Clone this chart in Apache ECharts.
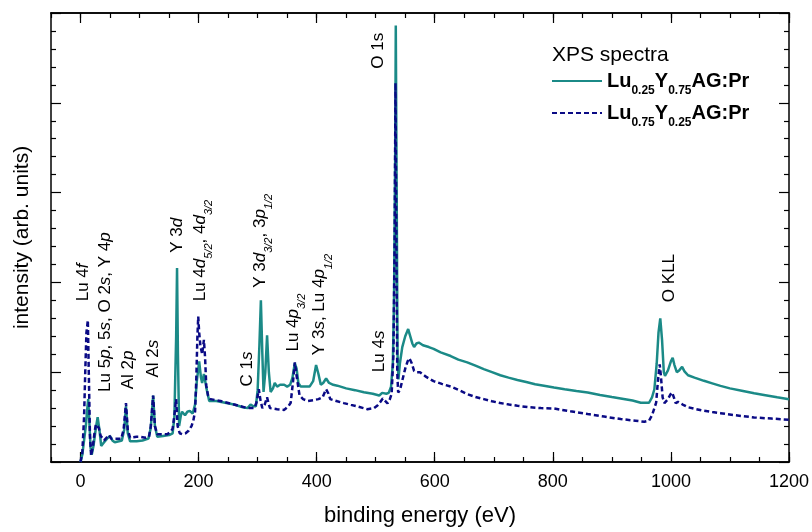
<!DOCTYPE html>
<html>
<head>
<meta charset="utf-8">
<script src="https://cdn.jsdelivr.net/npm/echarts@6/dist/echarts.min.js"></script>
<style>
    html, body { margin: 0; padding: 0; background: #fff; }
    #main { width: 812px; height: 532px; }
</style>
</head>
<body>
<div id="main"></div>
<script>
// binding energy (eV) / intensity (arb. units)
var tealEnergy = [0, 3, 6, 9, 11, 13, 15, 17, 19, 22, 26, 29, 32, 35, 40, 45, 50, 54, 58, 65, 70, 74, 77, 80, 84, 95, 105, 115, 119, 123, 126, 130, 140, 150, 156, 159, 162, 163.5, 165, 167, 170, 172, 177, 181, 185, 190, 194, 197, 201, 204, 206, 209, 211, 214, 218, 230, 245, 260, 275, 283, 288, 290, 293, 297, 300, 303, 305.5, 308, 310, 313, 316, 319, 322, 326, 329, 333, 338, 345, 350, 355, 359, 363, 366, 369, 373, 380, 388, 394, 399, 403, 407, 411, 416, 421, 428, 435, 450, 465, 480, 495, 506, 511, 514, 518, 522, 526, 529, 531, 533, 534, 535.5, 537, 538.5, 541, 545, 550, 555, 558, 562, 565, 569, 573, 580, 590, 598, 610, 627, 640, 655, 670, 683, 697, 711, 725, 740, 755, 770, 785, 802, 820, 840, 859, 880, 900, 915, 935, 949, 963, 968, 972, 976, 979, 982, 985, 988, 990, 995, 1000, 1003, 1006, 1010, 1014, 1019, 1023, 1029, 1040, 1056, 1070, 1084, 1100, 1120, 1141, 1160, 1180, 1200];
var tealIntensity = [0, 0.4, 1.2, 2.0, 2.8, 3.5, 2.2, 0.8, 0.4, 0.9, 1.9, 2.5, 1.8, 0.9, 1.1, 1.3, 1.45, 1.2, 1.1, 1.15, 1.2, 1.8, 3.1, 1.6, 1.15, 1.15, 1.2, 1.3, 1.9, 3.7, 2.0, 1.4, 1.45, 1.5, 1.6, 2.5, 7.0, 10.8, 6.0, 2.0, 2.6, 2.8, 2.6, 2.8, 2.85, 2.7, 3.2, 4.5, 5.6, 4.7, 4.4, 4.9, 4.9, 4.0, 3.4, 3.4, 3.3, 3.2, 3.05, 3.0, 3.2, 3.3, 3.1, 3.1, 4.0, 6.5, 9.0, 6.0, 3.9, 5.0, 7.05, 5.0, 3.9, 4.1, 4.4, 4.2, 4.3, 4.3, 4.2, 4.3, 4.7, 5.5, 5.2, 4.4, 4.2, 4.2, 4.2, 4.5, 5.4, 4.9, 4.3, 4.4, 4.65, 4.4, 4.3, 4.25, 4.1, 4.0, 3.88, 3.8, 3.7, 3.85, 3.96, 3.8, 3.85, 4.2, 5.5, 9.0, 17.0, 24.3, 15.0, 6.0, 4.6, 5.5, 6.4, 7.0, 7.4, 7.3, 6.6, 6.4, 6.6, 6.65, 6.5, 6.4, 6.3, 6.1, 5.9, 5.7, 5.55, 5.35, 5.17, 5.0, 4.83, 4.7, 4.57, 4.45, 4.33, 4.25, 4.15, 4.05, 3.95, 3.87, 3.73, 3.62, 3.54, 3.42, 3.3, 3.3, 3.6, 4.05, 5.5, 7.2, 8.0, 6.8, 5.0, 4.8, 5.1, 5.6, 5.8, 5.4, 5.0, 5.1, 5.3, 5.05, 4.83, 4.7, 4.52, 4.38, 4.24, 4.1, 3.97, 3.83, 3.72, 3.6, 3.5];

var navyEnergy = [0, 3, 6, 8, 10, 12.4, 14, 16, 18, 21, 24, 26, 28.6, 31, 34, 40, 44, 48, 52, 56, 62, 69, 73, 77, 80, 84, 95, 102, 110, 116, 119, 123, 126, 130, 140, 147, 153, 156, 159, 162, 164.5, 168, 172, 178, 183, 188, 191, 194, 196, 198, 199.4, 201, 203, 206, 209, 211, 213, 216, 220, 237, 260, 283, 294, 298, 302, 305, 308, 312, 316, 319, 321, 333, 345, 352, 356, 360, 363, 366, 371, 377, 385, 395, 403, 410, 416, 420, 423, 435, 446, 458, 469, 486, 497, 503, 508, 512, 516, 520, 524, 527, 530, 532, 533.5, 535, 536.5, 538, 541, 544, 550, 554, 557, 561, 565, 570, 575, 585, 598, 612, 627, 641, 655, 669, 683, 697, 711, 726, 740, 760, 780, 802, 830, 859, 887, 915, 940, 955, 963, 968, 972, 975, 978, 981, 983, 986, 989, 992, 995, 999, 1002, 1005, 1008, 1012, 1015, 1020, 1029, 1042, 1056, 1070, 1084, 1110, 1141, 1170, 1200];
var navyIntensity = [0, 0.5, 2.5, 5.0, 7.2, 7.9, 5.0, 1.46, 0.35, 0.9, 1.7, 2.1, 2.2, 1.9, 1.46, 1.2, 1.35, 1.5, 1.3, 1.3, 1.3, 1.3, 1.8, 3.28, 1.8, 1.35, 1.4, 1.4, 1.35, 1.4, 2.0, 3.7, 2.0, 1.55, 1.55, 1.55, 1.7, 1.85, 2.6, 3.5, 2.0, 1.6, 1.55, 1.6, 1.74, 2.0, 2.3, 2.8, 4.5, 7.0, 8.1, 7.2, 6.5, 6.0, 6.8, 5.8, 4.25, 3.7, 3.5, 3.4, 3.2, 3.0, 3.0, 3.3, 4.05, 3.4, 3.0, 3.2, 3.6, 3.2, 3.0, 2.94, 2.9, 3.1, 3.3, 4.5, 5.55, 4.8, 3.7, 3.5, 3.4, 3.45, 3.5, 3.6, 4.05, 3.8, 3.5, 3.38, 3.28, 3.18, 3.09, 2.94, 3.0, 3.15, 3.35, 3.54, 3.4, 3.26, 3.5, 3.8, 6.0, 12.0, 21.1, 12.0, 5.0, 3.87, 4.0, 4.4, 5.2, 5.6, 5.78, 5.5, 5.07, 5.0, 5.0, 4.75, 4.5, 4.35, 4.2, 4.0, 3.78, 3.62, 3.5, 3.38, 3.28, 3.2, 3.13, 3.05, 3.0, 2.98, 2.82, 2.67, 2.53, 2.39, 2.3, 2.24, 2.3, 2.6, 3.0, 3.3, 4.5, 5.44, 4.8, 3.6, 3.28, 3.35, 3.5, 3.75, 3.87, 3.6, 3.28, 3.35, 3.4, 3.2, 3.05, 2.95, 2.85, 2.78, 2.72, 2.6, 2.48, 2.42, 2.35];

// peak assignments: *italic*, _subscript_
var peakNames = ['Lu 4*f*', 'Lu 5*p*, 5*s*, O 2*s*, Y 4*p*', 'Al 2*p*', 'Al 2*s*', 'Y 3*d*',
    'Lu 4*d*_5/2_, 4*d*_3/2_', 'C 1*s*', 'Y 3*d*_3/2_, 3*p*_1/2_', 'Lu 4*p*_3/2_',
    'Y 3*s*, Lu 4*p*_1/2_', 'Lu 4*s*', 'O 1s', 'O KLL'];
var peakEnergy = [5, 42, 81, 124, 164, 203, 283, 305, 361, 406, 507, 505, 998];
var peakIntensity = [8.95, 3.9, 4.05, 4.7, 11.65, 8.95, 4.2, 9.7, 6.15, 5.95, 5.0, 21.9, 8.9];

var seriesNames = ['Lu_0.25_Y_0.75_AG:Pr', 'Lu_0.75_Y_0.25_AG:Pr'];
var xMajorTicks = [0, 200, 400, 600, 800, 1000, 1200];

var FONT = 'Liberation Sans, Arial, sans-serif';

function zip(xs, ys) {
    var out = [];
    for (var i = 0; i < xs.length; ++i) {
        out.push([xs[i], ys[i]]);
    }
    return out;
}

// turn the small markup into echarts rich text
function toRich(str, plain, italic, sub) {
    return str.split(/(\*[^*]+\*|_[^_]+_)/).filter(function(p) {
        return p.length > 0;
    }).map(function(p) {
        if (p.charAt(0) === '*') return '{' + italic + '|' + p.slice(1, -1) + '}';
        if (p.charAt(0) === '_') return '{' + sub + '|' + p.slice(1, -1) + '}';
        return '{' + plain + '|' + p + '}';
    }).join('');
}

var myChart = echarts.init(document.getElementById('main'));

var tickStyle = { color: '#000', width: 1.2 };
var xBase = {
    type: 'value',
    min: -50,
    max: 1200,
    splitLine: { show: false },
    axisLine: { show: true, onZero: false, lineStyle: { color: '#000', width: 1.5 } }
};
var yBase = {
    type: 'value',
    min: 0,
    max: 25,
    interval: 5,
    splitLine: { show: false },
    axisLabel: { show: false },
    axisLine: { show: true, onZero: false, lineStyle: { color: '#000', width: 1.5 } },
    axisTick: { show: true, inside: true, length: 10, lineStyle: tickStyle },
    minorTick: { show: true, splitNumber: 5, length: 5, lineStyle: tickStyle }
};

var option = {
    animation: false,
    backgroundColor: '#fff',
    textStyle: { fontFamily: FONT },
    title: {
        text: 'XPS spectra',
        left: 547,
        top: 40,
        textStyle: { fontFamily: FONT, fontSize: 21, fontWeight: 'normal', color: '#000' }
    },
    legend: {
        data: seriesNames,
        orient: 'vertical',
        left: 546,
        top: 66,
        itemWidth: 50,
        itemHeight: 14,
        itemGap: 6,
        itemStyle: { opacity: 0 },
        formatter: function(name) {
            return toRich(name, 'b', 'b', 's');
        },
        textStyle: {
            color: '#000',
            rich: {
                b: { fontFamily: FONT, fontSize: 20, fontWeight: 'bold', color: '#000', lineHeight: 20, verticalAlign: 'top' },
                s: { fontFamily: FONT, fontSize: 12, fontWeight: 'bold', color: '#000', lineHeight: 12, padding: [14, 0, 0, 0], verticalAlign: 'top' }
            }
        }
    },
    grid: { left: 51, right: 23, top: 13, bottom: 69 },
    xAxis: [
        Object.assign({}, xBase, {
            position: 'bottom',
            interval: 50,
            axisTick: { show: true, inside: true, length: 5, lineStyle: tickStyle },
            axisLabel: {
                customValues: xMajorTicks,
                color: '#000',
                fontSize: 18,
                margin: 11,
                fontFamily: FONT,
                formatter: function(v) { return String(v); }
            },
            name: 'binding energy (eV)',
            nameLocation: 'middle',
            nameGap: 43,
            nameTextStyle: { fontSize: 22, color: '#000', fontFamily: FONT }
        }),
        Object.assign({}, xBase, {
            position: 'bottom',
            axisTick: { show: true, inside: true, length: 10, customValues: xMajorTicks, lineStyle: tickStyle },
            axisLabel: { show: false }
        }),
        Object.assign({}, xBase, {
            position: 'top',
            interval: 50,
            axisTick: { show: true, inside: true, length: 5, lineStyle: tickStyle },
            axisLabel: { show: false }
        }),
        Object.assign({}, xBase, {
            position: 'top',
            axisTick: { show: true, inside: true, length: 10, customValues: xMajorTicks, lineStyle: tickStyle },
            axisLabel: { show: false }
        })
    ],
    yAxis: [
        Object.assign({}, yBase, {
            position: 'left',
            name: 'intensity (arb. units)',
            nameLocation: 'middle',
            nameGap: 18,
            nameTextStyle: { fontSize: 21, color: '#000', fontFamily: FONT }
        }),
        Object.assign({}, yBase, { position: 'right' })
    ],
    series: [
        {
            name: seriesNames[0],
            type: 'line',
            xAxisIndex: 0,
            yAxisIndex: 0,
            symbol: 'none',
            color: '#1b8a87',
            lineStyle: { color: '#1b8a87', width: 2.5 },
            data: zip(tealEnergy, tealIntensity)
        },
        {
            name: seriesNames[1],
            type: 'line',
            xAxisIndex: 0,
            yAxisIndex: 0,
            symbol: 'none',
            color: '#0a0a85',
            lineStyle: { color: '#0a0a85', width: 2.5, type: [5, 3] },
            data: zip(navyEnergy, navyIntensity)
        },
        {
            name: 'peaks',
            type: 'scatter',
            xAxisIndex: 0,
            yAxisIndex: 0,
            symbolSize: 0,
            silent: true,
            itemStyle: { color: '#fff', opacity: 0 },
            data: peakNames.map(function(n, i) {
                return { name: n, value: [peakEnergy[i], peakIntensity[i]] };
            }),
            label: {
                show: true,
                position: 'inside',
                rotate: 90,
                align: 'left',
                verticalAlign: 'middle',
                color: '#000',
                textBorderWidth: 0,
                opacity: 1,
                formatter: function(p) {
                    return toRich(p.name, 't', 'i', 's');
                },
                rich: {
                    t: { fontFamily: FONT, fontSize: 17, color: '#000', lineHeight: 18, verticalAlign: 'top', textBorderWidth: 0 },
                    i: { fontFamily: FONT, fontSize: 17, fontStyle: 'italic', color: '#000', lineHeight: 18, verticalAlign: 'top', textBorderWidth: 0 },
                    s: { fontFamily: FONT, fontSize: 11, fontStyle: 'italic', color: '#000', lineHeight: 11, padding: [12, 0, 0, 0], verticalAlign: 'top', textBorderWidth: 0 }
                }
            }
        }
    ]
};

myChart.setOption(option);
</script>
</body>
</html>
